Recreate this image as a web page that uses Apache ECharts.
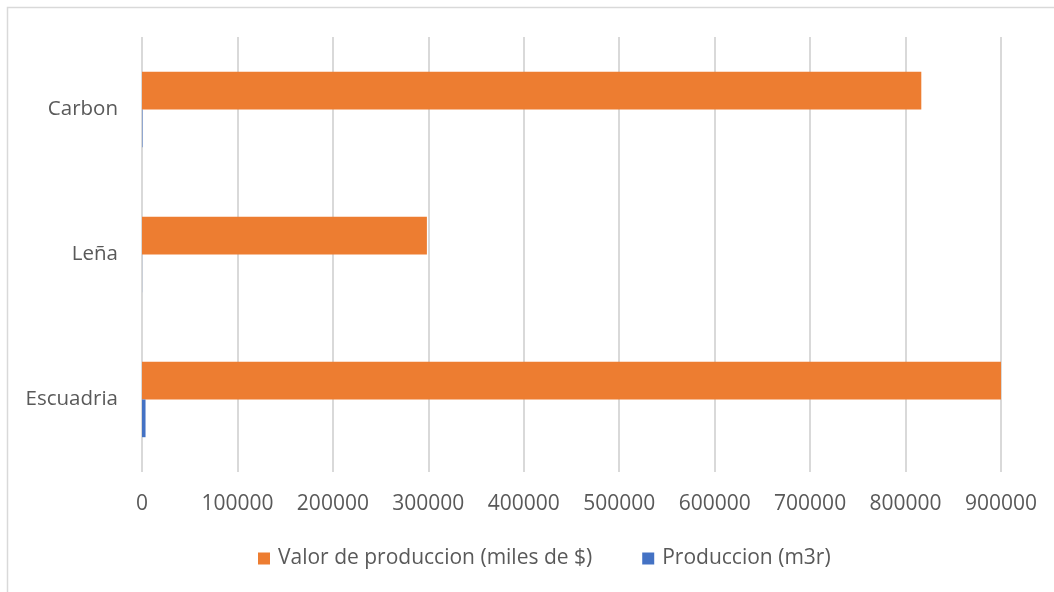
<!DOCTYPE html>
<html>
<head>
<meta charset="utf-8">
<script src="https://cdn.jsdelivr.net/npm/echarts@6/dist/echarts.min.js"></script>
<style>
  html, body { margin: 0; padding: 0; background: #fff; }
  #main { width: 1054px; height: 592px; }
</style>
</head>
<body>
<div id="main"></div>
<script>
// categorias de abajo hacia arriba
const categories = ['Escuadria', 'Leña', 'Carbon']
const valorProduccion = [901000, 298500, 816500]
const produccion = [3700, 100, 500]
const xTicks = [0, 100000, 200000, 300000, 400000, 500000, 600000, 700000, 800000, 900000]

const fontFamily = '"Open Sans", "Noto Sans", sans-serif'
const textColor = '#595959'

const chart = echarts.init(document.getElementById('main'))
chart.setOption({
  animation: false,
  graphic: [
    {
      type: 'rect',
      shape: { x: 7.5, y: 7.5, width: 1200, height: 800 },
      style: { fill: 'none', stroke: '#d9d9d9', lineWidth: 1.5 }
    }
  ],
  legend: {
    data: ['Valor de produccion (miles de $)', 'Produccion (m3r)'],
    top: 543,
    left: 253,
    itemWidth: 12,
    itemHeight: 12,
    itemGap: 50,
    icon: 'rect',
    textStyle: { fontFamily, fontSize: 21, color: textColor, padding: [0, 0, 0, 3] }
  },
  grid: {
    left: 142,
    right: 53,
    top: 37,
    bottom: 120
  },
  xAxis: {
    type: 'value',
    min: xTicks[0],
    max: xTicks[xTicks.length - 1],
    interval: 100000,
    axisLine: { show: false },
    axisTick: { show: false },
    splitLine: { lineStyle: { color: '#d9d9d9', width: 2 } },
    axisLabel: {
      fontFamily, fontSize: 21, color: textColor, margin: 22,
      formatter: (v) => String(v)
    }
  },
  yAxis: {
    type: 'category',
    data: categories,
    axisLine: { show: false },
    axisTick: { show: false },
    axisLabel: { fontFamily, fontSize: 20.5, color: textColor, margin: 24 }
  },
  series: [
    {
      name: 'Valor de produccion (miles de $)',
      type: 'bar',
      data: valorProduccion,
      itemStyle: { color: '#ED7D31' },
      barGap: '0%',
      barCategoryGap: '48%'
    },
    {
      name: 'Produccion (m3r)',
      type: 'bar',
      data: produccion,
      itemStyle: { color: '#4472C4' },
      barGap: '0%',
      barCategoryGap: '48%'
    }
  ]
})
</script>
</body>
</html>
